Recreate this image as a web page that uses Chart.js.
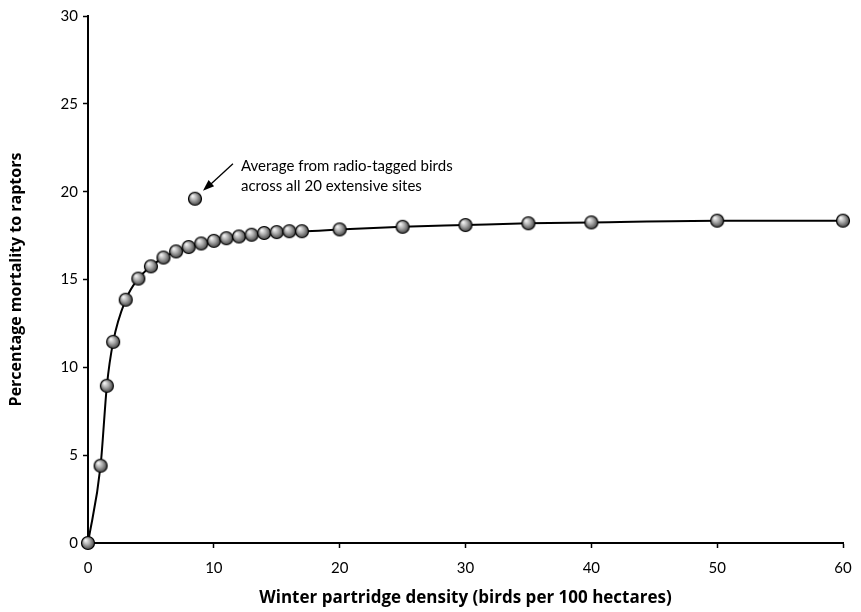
<!DOCTYPE html>
<html>
<head>
<meta charset="utf-8">
<script src="https://cdn.jsdelivr.net/npm/chart.js@4"></script>
<style>
  html, body { margin: 0; padding: 0; background: #fff; }
  .chart-wrapper { width: 861px; height: 612px; }
</style>
</head>
<body>
<div class="chart-wrapper"><canvas id="mortalityChart"></canvas></div>
<script>
/*  Data ------------------------------------------------------------------- */
const densities = [0, 1, 1.5, 2, 3, 4, 5, 6, 7, 8, 9, 10, 11, 12, 13, 14, 15, 16, 17, 20, 25, 30, 35, 40, 50, 60];
const mortality = [0, 4.4, 8.95, 11.45, 13.85, 15.05, 15.75, 16.25, 16.6, 16.85, 17.05, 17.2, 17.35, 17.45, 17.55, 17.65, 17.7, 17.75, 17.75, 17.85, 18.0, 18.1, 18.2, 18.25, 18.35, 18.35];
const radioTagged = { x: 8.5, y: 19.6 };
const xTicks = [0, 10, 20, 30, 40, 50, 60];
const yTicks = [0, 5, 10, 15, 20, 25, 30];
const noteLines = ['Average from radio-tagged birds', 'across all 20 extensive sites'];

const FONT = 'Lato, "DejaVu Sans", sans-serif';
const TITLE_FONT = '"Open Sans", "DejaVu Sans", sans-serif';

/*  Shaded ball marker ------------------------------------------------------ */
function makeBall(r) {
  const c = document.createElement('canvas');
  const size = r * 2 + 2;
  c.width = size; c.height = size;
  const g = c.getContext('2d');
  const cx = size / 2, cy = size / 2;
  const grad = g.createRadialGradient(cx - r * 0.35, cy - r * 0.4, 0.5, cx, cy, r);
  grad.addColorStop(0, '#f4f4f4');
  grad.addColorStop(0.45, '#a8a8a8');
  grad.addColorStop(1, '#3a3a3a');
  g.beginPath();
  g.arc(cx, cy, r - 0.5, 0, Math.PI * 2);
  g.fillStyle = grad;
  g.fill();
  g.lineWidth = 1.2;
  g.strokeStyle = '#000';
  g.stroke();
  return c;
}
const ball = makeBall(7);

/*  Annotation: text + arrow ------------------------------------------------ */
const notePlugin = {
  id: 'note',
  afterDraw(chart) {
    const { ctx, scales: { x, y } } = chart;
    const px = x.getPixelForValue(radioTagged.x);
    const py = y.getPixelForValue(radioTagged.y);
    ctx.save();
    ctx.fillStyle = '#000';
    ctx.font = '15px ' + FONT;
    ctx.textBaseline = 'middle';
    noteLines.forEach((t, i) => ctx.fillText(t, px + 46, py - 33 + i * 20));

    // arrow
    const x0 = px + 38, y0 = py - 35, x1 = px + 8, y1 = py - 8;
    ctx.strokeStyle = '#000';
    ctx.lineWidth = 1.3;
    ctx.beginPath();
    ctx.moveTo(x0, y0);
    ctx.lineTo(x1 + 5, y1 - 4);
    ctx.stroke();
    const ang = Math.atan2(y1 - y0, x1 - x0);
    ctx.beginPath();
    ctx.moveTo(x1, y1);
    ctx.lineTo(x1 - 12 * Math.cos(ang - 0.35), y1 - 12 * Math.sin(ang - 0.35));
    ctx.lineTo(x1 - 12 * Math.cos(ang + 0.35), y1 - 12 * Math.sin(ang + 0.35));
    ctx.closePath();
    ctx.fill();
    ctx.restore();
  }
};

/*  Chart ------------------------------------------------------------------- */
new Chart(document.getElementById('mortalityChart'), {
  type: 'scatter',
  data: {
    datasets: [
      {
        label: 'Model',
        data: densities.map((d, i) => ({ x: d, y: mortality[i] })),
        showLine: true,
        cubicInterpolationMode: 'monotone',
        borderColor: '#000',
        borderWidth: 2,
        pointStyle: ball,
        pointRadius: 7,
        clip: false,
      },
      {
        label: 'Radio-tagged',
        data: [radioTagged],
        showLine: false,
        pointStyle: ball,
        pointRadius: 7,
        clip: false,
      },
    ],
  },
  options: {
    responsive: true,
    maintainAspectRatio: false,
    animation: false,
    layout: { padding: { top: 16, right: 18, left: 0, bottom: 0 } },
    plugins: {
      legend: { display: false },
      tooltip: { enabled: false },
    },
    scales: {
      x: {
        type: 'linear',
        min: 0, max: 60,
        afterBuildTicks: (s) => { s.ticks = xTicks.map(v => ({ value: v })); },
        afterFit: (s) => { s.height = 69; s.paddingRight = 0; s.paddingLeft = 0; },
        border: { color: '#000', width: 2 },
        grid: { drawOnChartArea: false, color: '#000', tickLength: 5, tickWidth: 1.5 },
        ticks: { color: '#000', font: { family: FONT, size: 15 }, padding: 11 },
        title: {
          display: true,
          text: 'Winter partridge density (birds per 100 hectares)',
          color: '#000',
          font: { family: TITLE_FONT, size: 17, weight: 'bold' },
          padding: { top: 0, bottom: 4 },
        },
      },
      y: {
        type: 'linear',
        min: 0, max: 30,
        afterBuildTicks: (s) => { s.ticks = yTicks.map(v => ({ value: v })); },
        afterFit: (s) => { s.width = 88; s.paddingTop = 0; s.paddingBottom = 0; },
        border: { color: '#000', width: 2 },
        grid: { drawOnChartArea: false, color: '#000', tickLength: 5, tickWidth: 1.5 },
        ticks: { color: '#000', font: { family: FONT, size: 15 }, padding: 5 },
        title: {
          display: true,
          text: 'Percentage mortality to raptors',
          color: '#000',
          font: { family: TITLE_FONT, size: 16, weight: 'bold' },
          padding: { top: 7, bottom: 0 },
        },
      },
    },
  },
  plugins: [notePlugin],
});
</script>
</body>
</html>
